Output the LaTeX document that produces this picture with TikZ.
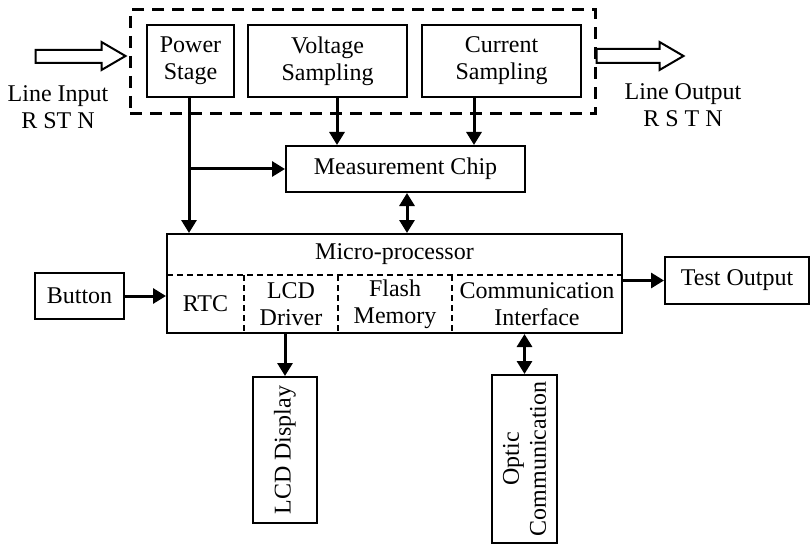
\documentclass[tikz,border=0pt]{standalone}
\usepackage{fontspec}
\setmainfont{Liberation Serif}
\usetikzlibrary{positioning, arrows.meta}

\begin{document}
\begin{tikzpicture}[
    x=0.5pt, y=-0.5pt,
    font=\fontsize{12}{13.5}\selectfont,
    box/.style={draw, line width=1pt, inner sep=0pt, align=center},
    cell/.style={inner sep=0pt, align=center},
    arr/.style={-{Triangle[length=6.5pt, width=7.5pt]}, line width=1.5pt},
    biarr/.style={{Triangle[length=6.5pt, width=7.5pt]}-{Triangle[length=6.5pt, width=7.5pt]}, line width=1.5pt},
    hollow/.style={draw, line width=1pt, fill=white, line join=miter},
    divider/.style={densely dashed, line width=0.6pt}]

  \useasboundingbox (0,0) rectangle (812,545);

  % === Top: power and sampling stages ===
  \node[draw, dashed, line width=1.5pt, dash pattern=on 6pt off 4pt,
        minimum width=232.5pt, minimum height=52pt, inner sep=0pt] (sys) at (362.5,62) {};
  \node[box, minimum width=43.5pt, minimum height=36pt] (power) at (190.5,61) {Power\\Stage};
  \node[box, minimum width=79.5pt, minimum height=36pt] (volt) at (327.5,61) {Voltage\\Sampling};
  \node[box, minimum width=79.5pt, minimum height=36pt] (curr) at (501.5,61) {Current\\Sampling};

  % Line input / output
  \node[cell] (lin) at (58,107) {Line Input\\R ST N};
  \node[cell] (lout) at (683,105) {Line Output\\R S T N};
  \draw[hollow] ([shift={(-93,-12)}]sys.west) -- ([shift={(-27,-12)}]sys.west)
    -- ([shift={(-27,-20)}]sys.west) -- ([shift={(-3,-6)}]sys.west)
    -- ([shift={(-27,8)}]sys.west) -- ([shift={(-27,1)}]sys.west)
    -- ([shift={(-93,1)}]sys.west) -- cycle;
  \draw[hollow] ([shift={(0,-13)}]sys.east) -- ([shift={(63,-13)}]sys.east)
    -- ([shift={(63,-20)}]sys.east) -- ([shift={(87,-6)}]sys.east)
    -- ([shift={(63,8)}]sys.east) -- ([shift={(63,1)}]sys.east)
    -- ([shift={(0,1)}]sys.east) -- cycle;

  % === Middle: measurement and processor ===
  \node[box, minimum width=119.5pt, minimum height=23pt] (meas) at (405.5,169) {Measurement Chip};
  \node[box, minimum width=227.5pt, minimum height=49.5pt] (mcu) at (394.5,283.5) {};
  \node[cell] (mcutitle) at (394.5,254) {Micro-processor};
  \node[cell] (rtc) at (205.5,304) {RTC};
  \node[cell] (lcddrv) at (291,304) {LCD\\Driver};
  \node[cell] (flash) at (395,304) {Flash\\Memory};
  \node[cell] (comif) at (537,304) {Communication\\Interface};
  \draw[divider] (167,275) -- (622,275);
  \draw[divider] (244,275) -- (244,333);
  \draw[divider] (338,275) -- (338,333);
  \draw[divider] (452,275) -- (452,333);

  % Side boxes
  \node[box, minimum width=44.5pt, minimum height=23pt] (button) at (79.5,296) {Button};
  \node[box, minimum width=72pt, minimum height=23.5pt] (test) at (737,280.5) {Test Output};

  % Bottom boxes (rotated text)
  \node[box, minimum width=32pt, minimum height=73pt] (lcd) at (285,450) {};
  \node[rotate=90, cell] at (lcd.center) {LCD Display};
  \node[box, minimum width=32.5pt, minimum height=84pt] (optic) at (524.5,459) {};
  \node[rotate=90, cell] at (optic.center) {Optic\\Communication};

  % === Arrows ===
  \coordinate (branch) at (189,169);
  \draw[arr] (power.south -| branch) -- (mcu.north -| branch);
  \draw[arr] (branch) -- (meas.west);
  \draw[arr] (volt.south -| 337,0) -- (meas.north -| 337,0);
  \draw[arr] (curr.south -| 474,0) -- (meas.north -| 474,0);
  \draw[biarr] (meas.south -| 407,0) -- (mcu.north -| 407,0);
  \draw[arr] (button.east) -- (mcu.west |- button.east);
  \draw[arr] (mcu.east |- test.west) -- (test.west);
  \draw[arr] (mcu.south -| lcd.north) -- (lcd.north);
  \draw[biarr] (mcu.south -| optic.north) -- (optic.north);

\end{tikzpicture}
\end{document}
